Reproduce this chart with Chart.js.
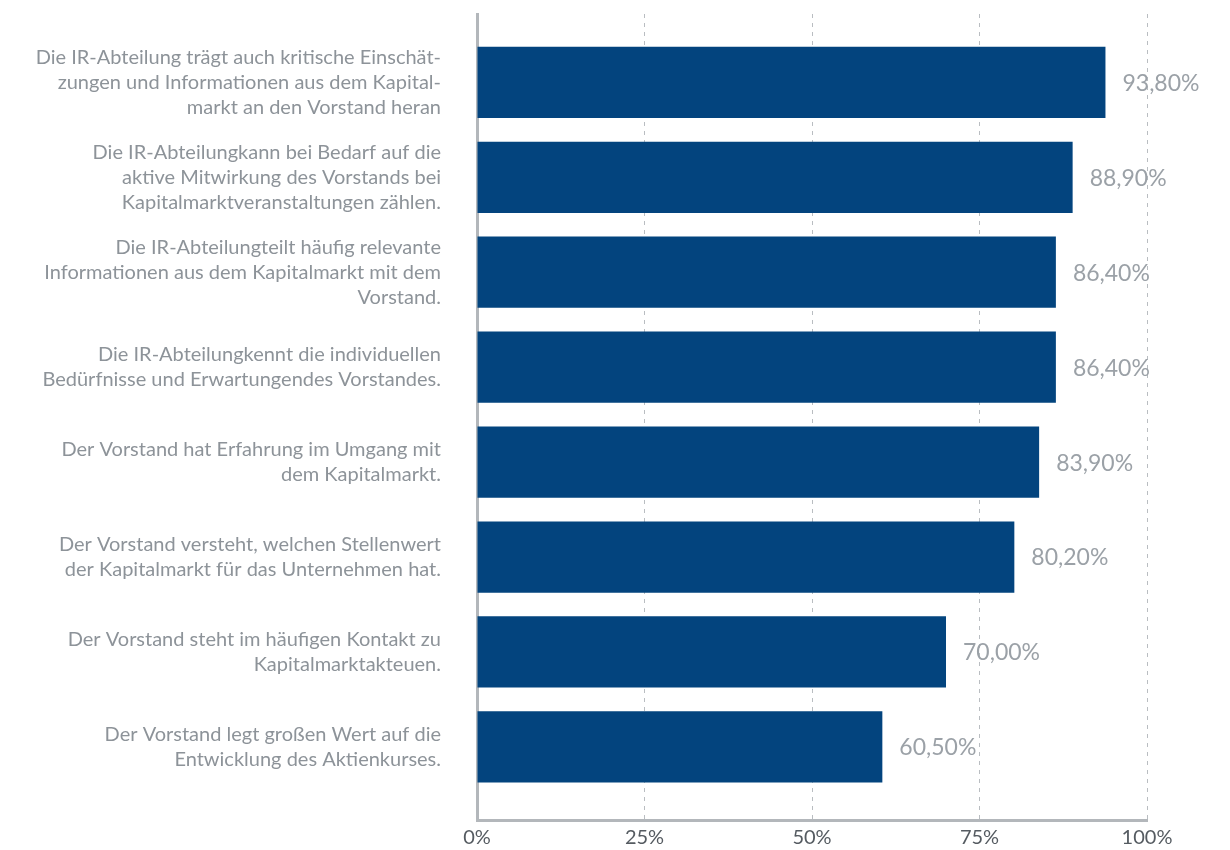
<!DOCTYPE html>
<html lang="de">
<head>
<meta charset="utf-8">
<title>Vorstand und Kapitalmarkt</title>
<script src="https://cdn.jsdelivr.net/npm/chart.js@4.4.1/dist/chart.umd.min.js"></script>
<style>
  html, body { margin: 0; padding: 0; background: #ffffff; }
  #chart { display: block; }
</style>
</head>
<body>
<canvas id="chart" width="1230" height="850"></canvas>
<script>
// Aussagen (mehrzeilig, so wie sie links neben den Balken stehen)
const statements = [
  ['Die IR-Abteilung trägt auch kritische Einschät-', 'zungen und Informationen aus dem Kapital-', 'markt an den Vorstand heran'],
  ['Die IR-Abteilungkann bei Bedarf auf die', 'aktive Mitwirkung des Vorstands bei', 'Kapitalmarktveranstaltungen zählen.'],
  ['Die IR-Abteilungteilt häufig relevante', 'Informationen aus dem Kapitalmarkt mit dem', 'Vorstand.'],
  ['Die IR-Abteilungkennt die individuellen', 'Bedürfnisse und Erwartungendes Vorstandes.'],
  ['Der Vorstand hat Erfahrung im Umgang mit', 'dem Kapitalmarkt.'],
  ['Der Vorstand versteht, welchen Stellenwert', 'der Kapitalmarkt für das Unternehmen hat.'],
  ['Der Vorstand steht im häufigen Kontakt zu', 'Kapitalmarktakteuen.'],
  ['Der Vorstand legt großen Wert auf die', 'Entwicklung des Aktienkurses.']
];

// Zustimmung in Prozent
const approval = [93.8, 88.9, 86.4, 86.4, 83.9, 80.2, 70.0, 60.5];

// Achsenbeschriftung unten
const percentTicks = [0, 25, 50, 75, 100];

const BAR_COLOR = '#03447e';
const AXIS_COLOR = '#b3b7bb';
const GRID_COLOR = '#b9bdc1';
const LABEL_COLOR = '#8d9399';
const VALUE_COLOR = '#9ba1a7';
const TICK_COLOR = '#555b61';
const FONT = 'Lato, "Open Sans", sans-serif';

const fmt = v => v.toFixed(2).replace('.', ',') + '%';

// Prozentwerte rechts neben jedem Balken
const valueLabels = {
  id: 'valueLabels',
  afterDatasetsDraw(chart) {
    const ctx = chart.ctx;
    const meta = chart.getDatasetMeta(0);
    ctx.save();
    ctx.font = '23px ' + FONT;
    ctx.fillStyle = VALUE_COLOR;
    ctx.textAlign = 'left';
    ctx.textBaseline = 'middle';
    meta.data.forEach((bar, i) => {
      ctx.fillText(fmt(approval[i]), bar.x + 17, bar.y + 1);
    });
    ctx.restore();
  }
};

new Chart(document.getElementById('chart'), {
  type: 'bar',
  data: {
    datasets: [{
      data: approval.map((v, i) => ({ x: v, y: i })),
      backgroundColor: BAR_COLOR,
      borderWidth: 0,
      barPercentage: 0.75,
      categoryPercentage: 1
    }]
  },
  options: {
    indexAxis: 'y',
    responsive: false,
    animation: false,
    layout: { padding: { top: 14, right: 83, bottom: 0, left: 0 } },
    plugins: {
      legend: { display: false },
      tooltip: { enabled: false }
    },
    scales: {
      x: {
        type: 'linear',
        position: 'bottom',
        min: 0,
        max: 100,
        afterBuildTicks(scale) {
          scale.ticks = percentTicks.map(v => ({ value: v }));
        },
        afterFit(scale) {
          scale.height = 30;
          scale.paddingLeft = 0;
          scale.paddingRight = 0;
        },
        grid: {
          color: GRID_COLOR,
          lineWidth: 1,
          drawTicks: false
        },
        border: {
          color: AXIS_COLOR,
          width: 3,
          dash: [4, 5]
        },
        ticks: {
          padding: 6,
          color: TICK_COLOR,
          font: { family: FONT, size: 20 },
          callback: v => v + '%'
        }
      },
      y: {
        type: 'linear',
        reverse: true,
        offset: false,
        bounds: 'data',
        min: -0.72,
        max: 7.77,
        afterBuildTicks(scale) {
          scale.ticks = statements.map((s, i) => ({ value: i }));
        },
        afterFit(scale) {
          scale.width = 477;
          scale.paddingTop = 0;
          scale.paddingBottom = 0;
        },
        grid: { display: false, drawTicks: false, offset: false },
        border: { color: AXIS_COLOR, width: 3 },
        ticks: {
          padding: 36,
          color: LABEL_COLOR,
          font: { family: FONT, size: 20, lineHeight: 25 / 20 },
          callback: v => statements[v]
        }
      }
    }
  },
  plugins: [valueLabels]
});
</script>
</body>
</html>
